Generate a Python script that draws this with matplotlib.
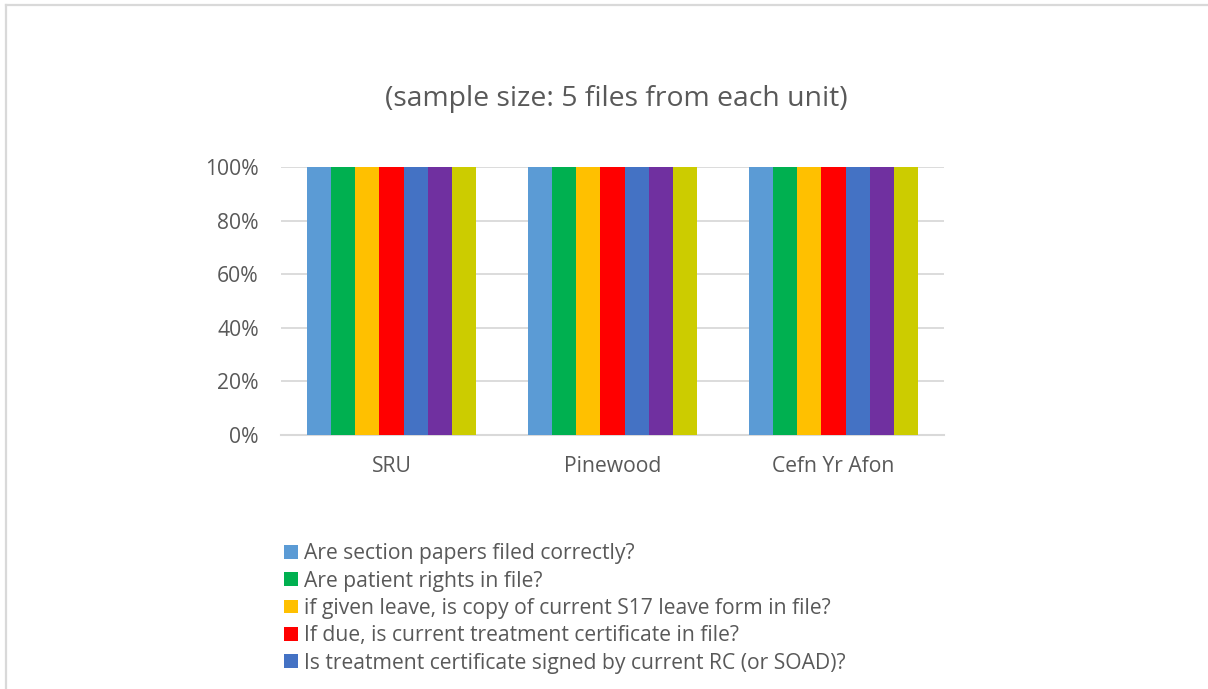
import matplotlib
matplotlib.use("Agg")
import matplotlib.pyplot as plt
from matplotlib.patches import Patch
from matplotlib.lines import Line2D
import numpy as np

plt.rcParams["font.family"] = ["Open Sans", "DejaVu Sans"]

units = ["SRU", "Pinewood", "Cefn Yr Afon"]
questions = [
    "Are section papers filed correctly?",
    "Are patient rights in file?",
    "if given leave, is copy of current S17 leave form in file?",
    "If due, is current treatment certificate in file?",
    "Is treatment certificate signed by current RC (or SOAD)?",
    None,
    None,
]
# share of sampled files meeting each check, per unit
scores = [
    [1.0, 1.0, 1.0],
    [1.0, 1.0, 1.0],
    [1.0, 1.0, 1.0],
    [1.0, 1.0, 1.0],
    [1.0, 1.0, 1.0],
    [1.0, 1.0, 1.0],
    [1.0, 1.0, 1.0],
]
colors = ["#5b9bd5", "#00b050", "#ffc000", "#ff0000", "#4472c4", "#7030a0", "#cccc00"]

text_color = "#595959"
grid_color = "#d9d9d9"

fig = plt.figure(figsize=(12.08, 6.89), dpi=100)
ax = fig.add_axes([0.2326, 0.3687, 0.5489, 0.3889])

x = np.arange(len(units))
width = 0.765 / len(scores)
for i, vals in enumerate(scores):
    offset = (i - (len(scores) - 1) / 2) * width
    ax.bar(x + offset, vals, width, color=colors[i], zorder=3)

ax.set_xlim(-0.5, 2.5)
ax.set_ylim(0, 1)
ax.set_yticks(np.arange(0, 1.01, 0.2))
ax.set_yticklabels([f"{int(round(v * 100))}%" for v in np.arange(0, 1.01, 0.2)])
ax.set_xticks(x)
ax.set_xticklabels(units)
ax.tick_params(axis="both", length=0, labelsize=15.2, colors=text_color)
ax.tick_params(axis="x", pad=15.5)
ax.tick_params(axis="y", pad=16)
ax.grid(axis="y", color=grid_color, linewidth=1.3, zorder=0)
for side in ["top", "right", "left"]:
    ax.spines[side].set_visible(False)
ax.spines["bottom"].set_color(grid_color)
ax.spines["bottom"].set_linewidth(1.5)

fig.text(0.51, 0.857, "(sample size: 5 files from each unit)", ha="center", va="center",
         fontsize=20.4, color=text_color)

handles = [Patch(facecolor=colors[i], edgecolor="none") for i in range(5)]
fig.legend(handles, questions[:5], loc="upper left", bbox_to_anchor=(0.2355, 0.2115),
           frameon=False, fontsize=15.2, labelcolor=text_color,
           handlelength=0.62, handleheight=0.62, handletextpad=0.3,
           labelspacing=0.3, borderaxespad=0, borderpad=0)

# chart frame
fig.add_artist(Line2D([0.005, 0.005], [0.0, 0.9925], transform=fig.transFigure,
                      color=grid_color, linewidth=1.6))
fig.add_artist(Line2D([0.005, 1.0], [0.9925, 0.9925], transform=fig.transFigure,
                      color=grid_color, linewidth=1.6))

fig.savefig("out.png", dpi=100)
